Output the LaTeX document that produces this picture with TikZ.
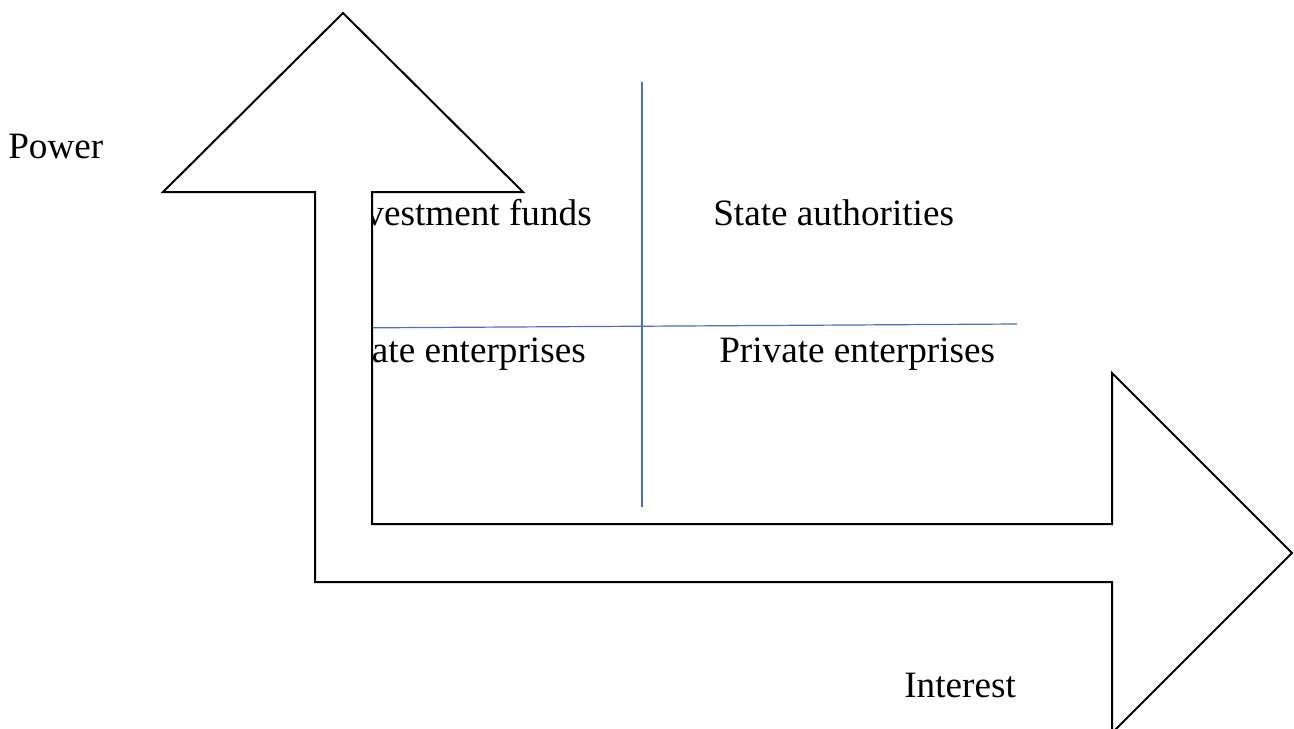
\documentclass[tikz,border=0pt]{standalone}
\usepackage{fontspec}
\setmainfont{Liberation Serif}
\definecolor{gridblue}{HTML}{4472C4}
\begin{document}
\begin{tikzpicture}[x=0.75pt,y=-0.75pt,
  lbl/.style={inner sep=0pt,font=\fontsize{27.9}{33}\selectfont},
  divider/.style={draw=gridblue,line width=0.9pt},
  bigarrow/.style={draw=black,fill=white,line width=1.5pt,line join=miter}]
\useasboundingbox (0,0) rectangle (1294,728);
% labels
\node[lbl,anchor=base east] (inv) at (592,225) {Investment funds};
\node[lbl,anchor=base west] (sta) at (713,225) {State authorities};
\node[lbl,anchor=base east] (sen) at (586,362) {State enterprises};
\node[lbl,anchor=base west] (pen) at (719,362) {Private enterprises};
\node[lbl,anchor=base west] (pow) at (8,158) {Power};
\node[lbl,anchor=base west] (int) at (904,697) {Interest};
% quadrant dividers
\coordinate (vtop) at (642,82);
\coordinate (vbot) at (642,507);
\coordinate (hleft) at (340,328);
\coordinate (hright) at (1017,324);
\draw[divider] (vtop) -- (vbot);
\draw[divider] (hleft) -- (hright);
% bent double arrow
\draw[bigarrow] (343,13) -- (523,192) -- (372,192) -- (372,524) -- (1112,524)
  -- (1112,373) -- (1292,553) -- (1112,733) -- (1112,582) -- (315,582)
  -- (315,192) -- (163,192) -- cycle;
\end{tikzpicture}
\end{document}
